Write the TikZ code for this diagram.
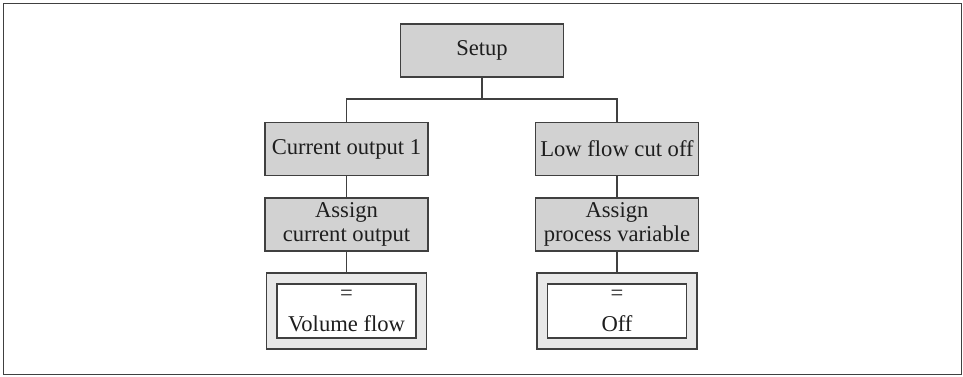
\documentclass[tikz,border=0pt]{standalone}
\usepackage{fontspec}
\setmainfont{Liberation Serif}
\definecolor{boxfill}{RGB}{210,210,210}
\definecolor{valfill}{RGB}{232,232,232}
\definecolor{edge}{RGB}{64,64,64}
\definecolor{txt}{RGB}{30,30,30}
\tikzset{
  menubox/.style={draw=edge, fill=boxfill, line width=0.65pt, minimum width=81.5pt, minimum height=26.5pt, inner sep=0pt, align=center, text=txt, font=\fontsize{11.3}{11.6}\selectfont},
  valouter/.style={draw=edge, fill=valfill, line width=0.65pt, minimum width=80pt, minimum height=38pt, inner sep=0pt},
  valinner/.style={draw=edge, fill=white, line width=0.65pt, minimum width=69.5pt, minimum height=27pt, inner sep=0pt, align=center, text=txt, font=\fontsize{11.3}{11.6}\selectfont},
  conn/.style={draw=edge, line width=0.6pt}
}
\begin{document}
\begin{tikzpicture}[x=0.5pt, y=-0.5pt]
\useasboundingbox (0,0) rectangle (963,376);
\draw[edge, line width=0.75pt] (3.5,3.5) rectangle (961.5,374.5);

\node[menubox] (setup) at (482,50.5) {Setup};
\node[menubox] (cur) at (346.5,149) {Current output 1};
\node[menubox] (acur) at (346.5,224.5) {Assign\\current output};
\node[valouter] (vcur) at (346.5,311) {};
\node[valinner] (vcurin) at (346.5,311) {=\\[4pt]Volume flow};

\node[menubox] (low) at (617,149) {Low flow cut off};
\node[menubox] (alow) at (617,224.5) {Assign\\process variable};
\node[valouter] (vlow) at (617,311) {};
\node[valinner] (vlowin) at (617,311) {=\\[4pt]Off};

\coordinate (bus) at (482,99);
\draw[conn] (setup.south) -- (bus);
\draw[conn] (bus) -| (cur.north);
\draw[conn] (bus) -| (low.north);
\draw[conn] (cur.south) -- (acur.north);
\draw[conn] (acur.south) -- (vcur.north);
\draw[conn] (low.south) -- (alow.north);
\draw[conn] (alow.south) -- (vlow.north);
\end{tikzpicture}
\end{document}
